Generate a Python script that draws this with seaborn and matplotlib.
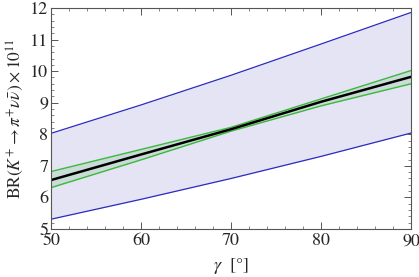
import numpy as np
import pandas as pd
import matplotlib
matplotlib.use("Agg")
import matplotlib.pyplot as plt
import seaborn as sns
from matplotlib.ticker import MultipleLocator

# values (gamma in degrees)
gamma = [50, 60, 70, 80, 90]
central = [6.55, 7.36, 8.16, 9.03, 9.82]
green_hi = [6.82, 7.52, 8.22, 9.12, 10.02]
green_lo = [6.31, 7.19, 8.10, 8.90, 9.60]
blue_hi = [8.03, 8.93, 9.87, 10.86, 11.86]
blue_lo = [5.31, 5.94, 6.60, 7.30, 8.04]

df = pd.DataFrame({
    'gamma': gamma, 'central': central,
    'green_hi': green_hi, 'green_lo': green_lo,
    'blue_hi': blue_hi, 'blue_lo': blue_lo,
})

sns.set_theme(style='ticks')
plt.rcParams['font.family'] = ['STIXGeneral', 'DejaVu Serif']
plt.rcParams['mathtext.fontset'] = 'stix'

fig = plt.figure(figsize=(4.19, 2.77), dpi=100)
ax = fig.add_axes([0.1217, 0.1733, 0.8593, 0.7977])

ax.fill_between(df['gamma'], df['blue_lo'], df['blue_hi'], color='#e4e4f4', lw=0)
ax.fill_between(df['gamma'], df['green_lo'], df['green_hi'], color='#c9dcd6', lw=0)

sns.lineplot(data=df, x='gamma', y='blue_hi', color='#2b2bc0', lw=0.9, ax=ax)
sns.lineplot(data=df, x='gamma', y='blue_lo', color='#2b2bc0', lw=0.9, ax=ax)
sns.lineplot(data=df, x='gamma', y='green_hi', color='#3cb83c', lw=1.0, ax=ax)
sns.lineplot(data=df, x='gamma', y='green_lo', color='#3cb83c', lw=1.0, ax=ax)
sns.lineplot(data=df, x='gamma', y='central', color='black', lw=1.8, ax=ax)

ax.set_xlim(50, 90)
ax.set_ylim(5, 12)
ax.xaxis.set_major_locator(MultipleLocator(10))
ax.xaxis.set_minor_locator(MultipleLocator(2))
ax.yaxis.set_major_locator(MultipleLocator(1))
ax.yaxis.set_minor_locator(MultipleLocator(0.2))
ax.tick_params(which='both', direction='in', top=True, right=True,
               color='#555555', labelsize=13, pad=2)
ax.tick_params(axis='x', pad=3)
ax.tick_params(which='major', length=5, width=0.7)
ax.tick_params(which='minor', length=2.5, width=0.5)
for s in ax.spines.values():
    s.set_color('#555555')
    s.set_linewidth(0.8)

ax.set_xlabel(r'$\gamma$  [°]', fontsize=13, labelpad=5)
ax.set_ylabel(r'BR$(K^{+}\rightarrow\pi^{+}\nu\bar{\nu})\times10^{11}$', fontsize=12.5, labelpad=3)

fig.savefig('out.png', dpi=100)
